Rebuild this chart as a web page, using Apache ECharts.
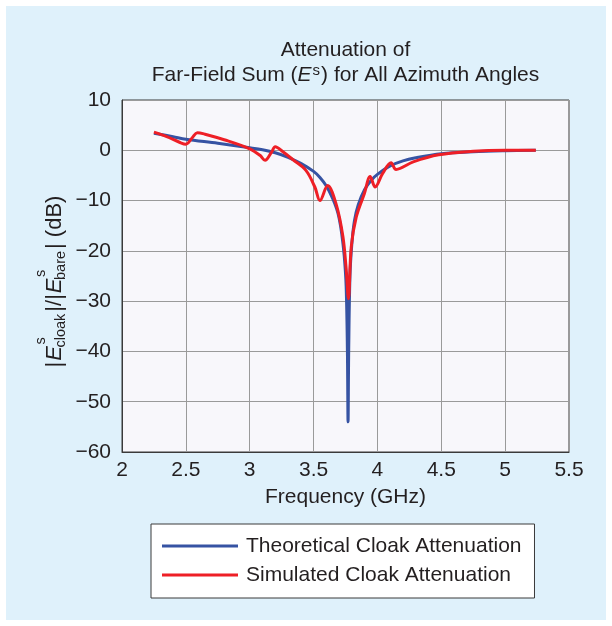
<!DOCTYPE html>
<html>
<head>
<meta charset="utf-8">
<script src="https://cdn.jsdelivr.net/npm/echarts@6/dist/echarts.min.js"></script>
<style>
  html, body { margin: 0; padding: 0; background: #ffffff; }
  #chart { width: 612px; height: 626px; }
</style>
</head>
<body>
<div id="chart"></div>
<script>
// Theoretical cloak attenuation vs frequency (GHz, dB)
const theoryFreq = [2.25, 2.4, 2.5, 2.75, 3.0, 3.1, 3.2, 3.3, 3.4, 3.5, 3.55, 3.6, 3.65, 3.68, 3.7, 3.72, 3.74, 3.755, 3.765, 3.77,
  3.775, 3.785, 3.8, 3.82, 3.85, 3.9, 3.95, 4.0, 4.1, 4.2, 4.3, 4.5, 4.75, 5.0, 5.24];
const theoryDb = [3.4, 2.7, 2.2, 1.4, 0.5, 0.1, -0.5, -1.4, -2.6, -4.2, -5.4, -7.1, -9.6, -11.6, -13.5, -16.5, -21, -27, -40, -54,
  -40, -25, -18.5, -14, -10.8, -7.8, -6.0, -4.8, -3.1, -2.1, -1.5, -0.7, -0.3, -0.1, 0];

// Simulated cloak attenuation vs frequency (GHz, dB)
const simFreq = [2.25, 2.35, 2.45, 2.5, 2.55, 2.59, 2.65, 2.8, 3.0, 3.08, 3.12, 3.17, 3.2, 3.26, 3.34, 3.44, 3.51, 3.55, 3.61, 3.68,
  3.73, 3.755, 3.773, 3.795, 3.834, 3.898, 3.943, 3.982, 4.041, 4.107, 4.146, 4.28, 4.48, 4.75, 5.0, 5.24];
const simDb = [3.6, 2.7, 1.6, 1.2, 2.5, 3.5, 3.2, 2.1, 0.3, -1.0, -2.0, -0.4, 0.7, -0.3, -1.9, -4.0, -7.3, -10.0, -7.0, -11.0,
  -17.2, -23.5, -29.5, -19.2, -13.3, -8.6, -5.2, -7.3, -4.6, -2.5, -3.8, -2.3, -0.9, -0.2, 0, 0];

// Axis ranges and tick spacing
const xRange = [2, 5.5];
const xStep = 0.5;
const yRange = [-60, 10];
const yStep = 10;

const seriesNames = ['Theoretical Cloak Attenuation', 'Simulated Cloak Attenuation'];

const FONT = '"Liberation Sans", Arial, Helvetica, sans-serif';
const FS = 21;
const TEXT = '#231f20';

const zip = (xs, ys) => xs.map((x, i) => [x, ys[i]]);
const minus = v => (v < 0 ? '\u2212' + Math.abs(v) : String(v));

// Text measurement for the rotated y-axis caption
const mctx = document.createElement('canvas').getContext('2d');
function textWidth(t, size, italic) {
  mctx.font = (italic ? 'italic ' : '') + size + 'px ' + FONT;
  return mctx.measureText(t).width;
}

// |E^s_cloak| / |E^s_bare| (dB), built piece by piece so super/subscripts stack
function buildYCaption(cx, cy) {
  const MAIN = 22, SMALL = 14.5;
  const parts = [
    { t: '|' },
    { t: 'E', it: true },
    { sup: 's', sub: 'cloak' },
    { t: '|/|' },
    { t: 'E', it: true },
    { sup: 's', sub: 'bare' },
    { t: '| (dB)' }
  ];
  const kids = [];
  let x = 0;
  parts.forEach(p => {
    if (p.t) {
      kids.push({ t: p.t, x: x, y: -7.5, size: MAIN, it: !!p.it });
      x += textWidth(p.t, MAIN, p.it) + 1;
    } else {
      const supX = x + 0.5, subX = x - 2.5;
      kids.push({ t: p.sup, x: supX, y: -21, size: SMALL, it: false });
      kids.push({ t: p.sub, x: subX, y: -1.5, size: SMALL, it: false });
      x = Math.max(supX + textWidth(p.sup, SMALL), subX + textWidth(p.sub, SMALL)) + 2;
    }
  });
  const total = x;
  return {
    type: 'group',
    x: cx,
    y: cy,
    rotation: Math.PI / 2,
    children: kids.map(k => ({
      type: 'text',
      x: k.x - total / 2,
      y: k.y,
      style: {
        text: k.t,
        fill: TEXT,
        font: (k.it ? 'italic ' : '') + k.size + 'px ' + FONT,
        align: 'left',
        verticalAlign: 'middle'
      }
    }))
  };
}

const chart = echarts.init(document.getElementById('chart'), null, { renderer: 'canvas' });

const option = {
  backgroundColor: '#ffffff',
  animation: false,
  grid: {
    left: 122, top: 100, width: 447, height: 352,
    show: true,
    backgroundColor: '#f8f7fb',
    borderColor: '#3a3a3a',
    borderWidth: 1
  },
  xAxis: {
    type: 'value',
    min: xRange[0], max: xRange[1], interval: xStep,
    axisLine: { show: true, onZero: false, lineStyle: { color: '#3a3a3a', width: 1 } },
    axisTick: { show: false },
    splitLine: { show: true, lineStyle: { color: '#9a9a9a', width: 1 } },
    axisLabel: {
      color: TEXT, fontFamily: FONT, fontSize: FS, margin: 8,
      showMinLabel: true, showMaxLabel: true,
      formatter: v => String(v)
    }
  },
  yAxis: {
    type: 'value',
    min: yRange[0], max: yRange[1], interval: yStep,
    axisLine: { show: true, onZero: false, lineStyle: { color: '#3a3a3a', width: 1 } },
    axisTick: { show: false },
    splitLine: { show: true, lineStyle: { color: '#9a9a9a', width: 1 } },
    axisLabel: {
      color: TEXT, fontFamily: FONT, fontSize: FS, margin: 11,
      showMinLabel: true, showMaxLabel: true,
      formatter: minus
    }
  },
  legend: {
    orient: 'vertical',
    left: 151, top: 524,
    icon: 'rect',
    itemWidth: 76, itemHeight: 3,
    itemGap: 7,
    padding: [11, 13, 12, 11],
    backgroundColor: '#ffffff',
    borderColor: '#3a3a3a',
    borderWidth: 1,
    selectedMode: false,
    textStyle: { color: TEXT, fontFamily: FONT, fontSize: FS, lineHeight: 22, padding: [0, 0, 0, 3] },
    data: seriesNames
  },
  series: [
    {
      name: seriesNames[0],
      type: 'line',
      data: zip(theoryFreq, theoryDb),
      smooth: 0.35,
      showSymbol: false,
      lineStyle: { color: '#3653a3', width: 3 },
      itemStyle: { color: '#3653a3' },
      z: 3
    },
    {
      name: seriesNames[1],
      type: 'line',
      data: zip(simFreq, simDb),
      smooth: 0.35,
      showSymbol: false,
      lineStyle: { color: '#ee1f26', width: 3 },
      itemStyle: { color: '#ee1f26' },
      z: 4
    }
  ],
  graphic: [
    {
      type: 'rect', z: -100, silent: true,
      shape: { x: 6, y: 6, width: 600, height: 614 },
      style: { fill: '#dff1fb' }
    },
    {
      type: 'text', z: 10,
      x: 345.5, y: 50.5,
      style: { text: 'Attenuation of', fill: TEXT, font: FS + 'px ' + FONT, align: 'center', verticalAlign: 'middle' }
    },
    {
      type: 'text', z: 10,
      x: 345.5, y: 75.5,
      style: {
        text: '{n|Far-Field Sum (}{i|E}{s|s}{n|) for All Azimuth Angles}',
        align: 'center', verticalAlign: 'middle',
        rich: {
          n: { fill: TEXT, fontFamily: FONT, fontSize: FS, lineHeight: 24 },
          i: { fill: TEXT, fontFamily: FONT, fontSize: FS, fontStyle: 'italic', lineHeight: 24 },
          s: { fill: TEXT, fontFamily: FONT, fontSize: 15, lineHeight: 12, verticalAlign: 'top', padding: [0, 1, 0, 1] }
        }
      }
    },
    {
      type: 'text', z: 10,
      x: 345.5, y: 497.5,
      style: { text: 'Frequency (GHz)', fill: TEXT, font: FS + 'px ' + FONT, align: 'center', verticalAlign: 'middle' }
    },
    Object.assign(buildYCaption(62, 281), { z: 10 })
  ]
};

chart.setOption(option);
</script>
</body>
</html>
